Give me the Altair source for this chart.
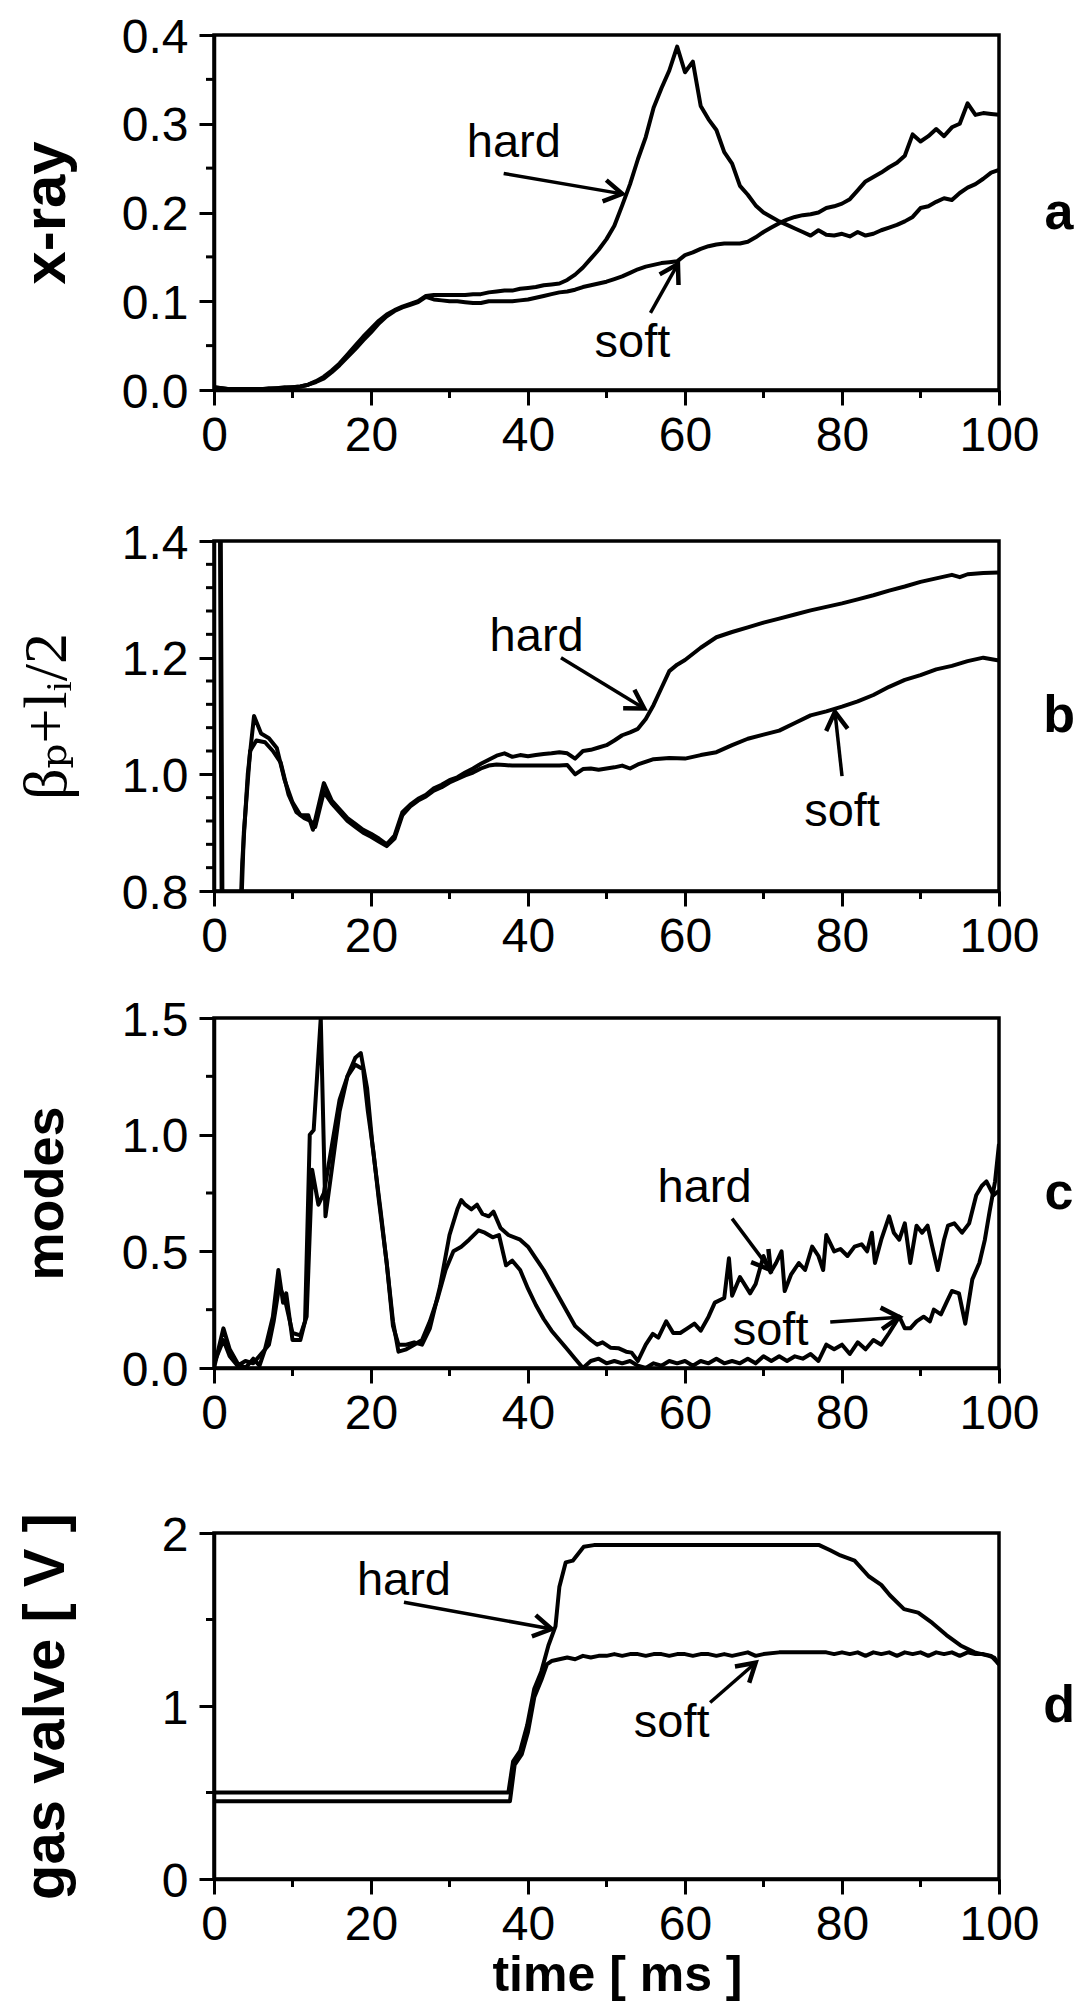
import math
import altair as alt
import pandas as pd

FONT = "Liberation Sans, Arial, Helvetica, sans-serif"
SERIF = "Liberation Serif, DejaVu Serif, Times New Roman, serif"
W = 785

x_major = [0, 20, 40, 60, 80, 100]
x_minor = [10, 30, 50, 70, 90]

# ---------------- panel a : x-ray ----------------
a_t = list(range(101))
a_hard = [0.003, 0.002, 0.001, 0.001, 0.001, 0.001, 0.001, 0.002, 0.002, 0.003, 0.003,
          0.004, 0.006, 0.010, 0.015, 0.022, 0.030, 0.040, 0.050, 0.060, 0.069,
          0.078, 0.085, 0.090, 0.094, 0.097, 0.100, 0.106, 0.107, 0.107, 0.107,
          0.107, 0.107, 0.108, 0.108, 0.110, 0.111, 0.112, 0.112, 0.114, 0.115,
          0.116, 0.118, 0.119, 0.120, 0.124, 0.130, 0.138, 0.148, 0.158, 0.170,
          0.185, 0.208, 0.232, 0.260, 0.285, 0.318, 0.340, 0.360, 0.387, 0.358,
          0.370, 0.320, 0.305, 0.293, 0.268, 0.255, 0.230, 0.220, 0.208, 0.200,
          0.195, 0.190, 0.186, 0.182, 0.178, 0.174, 0.180, 0.175, 0.174, 0.176,
          0.173, 0.178, 0.174, 0.176, 0.180, 0.183, 0.186, 0.190, 0.195, 0.205,
          0.207, 0.212, 0.216, 0.214, 0.222, 0.228, 0.232, 0.238, 0.245, 0.248]
a_soft = [0.003, 0.002, 0.001, 0.001, 0.001, 0.001, 0.001, 0.001, 0.002, 0.002, 0.003,
          0.004, 0.006, 0.009, 0.013, 0.020, 0.028, 0.037, 0.046, 0.056, 0.065,
          0.075, 0.083, 0.089, 0.093, 0.096, 0.099, 0.105, 0.102, 0.101, 0.100,
          0.100, 0.099, 0.098, 0.098, 0.100, 0.100, 0.100, 0.100, 0.101, 0.102,
          0.104, 0.106, 0.108, 0.110, 0.111, 0.113, 0.116, 0.118, 0.120, 0.122,
          0.125, 0.128, 0.132, 0.136, 0.139, 0.141, 0.143, 0.144, 0.145, 0.152,
          0.155, 0.159, 0.162, 0.164, 0.165, 0.165, 0.165, 0.167, 0.172, 0.178,
          0.183, 0.188, 0.192, 0.195, 0.197, 0.198, 0.200, 0.205, 0.207, 0.210,
          0.215, 0.225, 0.235, 0.240, 0.245, 0.251, 0.256, 0.264, 0.288, 0.280,
          0.286, 0.294, 0.286, 0.296, 0.300, 0.323, 0.310, 0.312, 0.311, 0.310]
a_major = [0.0, 0.1, 0.2, 0.3, 0.4]
a_minor = [0.05, 0.15, 0.25, 0.35]
a_labels = [("hard", 38.2, 0.278), ("soft", 53.3, 0.053)]
a_arrows = [(36.9, 0.244, 52.0, 0.221), (55.6, 0.087, 59.1, 0.142)]

# ---------------- panel b : beta_p + l_i/2 ----------------
b_hard = [(0, 1.6), (0.8, 1.6), (1.1, 0.7), (3.2, 0.7), (3.6, 0.85), (4.3, 1.0), (5.1, 1.10),
          (6, 1.07), (7, 1.062), (8, 1.045), (9, 0.99), (10, 0.952), (11, 0.93), (12, 0.93),
          (12.6, 0.905), (14, 0.985), (15, 0.955), (16, 0.94), (17, 0.925), (18, 0.915),
          (19, 0.905), (20, 0.898), (21, 0.89), (22, 0.88), (23, 0.895), (24, 0.935),
          (25, 0.948), (26, 0.958), (27, 0.965), (28, 0.976), (29, 0.982), (30, 0.99),
          (31, 0.995), (32, 1.003), (33, 1.01), (34, 1.018), (35, 1.025), (36, 1.032),
          (37, 1.036), (38, 1.03), (39, 1.033), (40, 1.031), (41, 1.033), (42, 1.035),
          (43, 1.036), (44, 1.038), (45, 1.036), (46, 1.027), (47, 1.04), (48, 1.042),
          (49, 1.046), (50, 1.05), (51, 1.058), (52, 1.067), (53, 1.072), (54, 1.078),
          (55, 1.095), (56, 1.119), (57, 1.148), (58, 1.177), (59, 1.188), (60, 1.196),
          (62, 1.217), (64, 1.235), (66, 1.244), (68, 1.252), (70, 1.26), (72, 1.267),
          (74, 1.274), (76, 1.281), (78, 1.287), (80, 1.293), (82, 1.300), (84, 1.307),
          (86, 1.315), (88, 1.322), (90, 1.33), (92, 1.336), (94, 1.342), (95, 1.338),
          (96, 1.343), (98, 1.345), (100, 1.346)]
b_soft = [(0, 1.6), (0.7, 1.6), (1.0, 0.7), (3.3, 0.7), (3.8, 0.9), (4.6, 1.04), (5.4, 1.058),
          (6.5, 1.055), (7.5, 1.04), (8.5, 1.02), (9.5, 0.965), (10.5, 0.935), (11.5, 0.925),
          (12.3, 0.92), (12.9, 0.91), (14, 0.97), (15, 0.95), (16, 0.935), (17, 0.92),
          (18, 0.91), (19, 0.9), (20, 0.893), (21, 0.885), (22, 0.877), (23, 0.89),
          (24, 0.93), (25, 0.945), (26, 0.955), (27, 0.962), (28, 0.972), (29, 0.978),
          (30, 0.986), (31, 0.992), (32, 0.998), (33, 1.003), (34, 1.01), (35, 1.015),
          (36, 1.017), (37, 1.016), (38, 1.015), (40, 1.015), (42, 1.015), (44, 1.015),
          (45, 1.016), (46, 1.0), (47, 1.009), (48, 1.01), (49, 1.008), (50, 1.01),
          (51, 1.012), (52, 1.015), (53, 1.01), (54, 1.017), (56, 1.026), (58, 1.028),
          (60, 1.027), (62, 1.033), (64, 1.038), (66, 1.05), (68, 1.061), (70, 1.068),
          (72, 1.075), (74, 1.088), (76, 1.101), (78, 1.108), (80, 1.116), (82, 1.125),
          (84, 1.136), (86, 1.15), (88, 1.162), (90, 1.17), (92, 1.18), (94, 1.186),
          (96, 1.194), (98, 1.2), (100, 1.195)]
b_major = [0.8, 1.0, 1.2, 1.4]
b_minor = [0.84, 0.88, 0.92, 0.96, 1.04, 1.08, 1.12, 1.16, 1.24, 1.28, 1.32, 1.36]
b_labels = [("hard", 41.1, 1.235), ("soft", 80.0, 0.936)]
b_arrows = [(44.2, 1.2, 54.8, 1.113), (80.0, 0.997, 79.1, 1.107)]

# ---------------- panel c : modes ----------------
c_hard = [(0, 0.0), (1.2, 0.17), (2, 0.08), (3, 0.02), (4, 0.0), (5, 0.04), (5.8, 0.01), (6.5, 0.08),
          (7.5, 0.22), (8.2, 0.42), (8.8, 0.28), (9.2, 0.32), (10, 0.12), (11, 0.12), (11.6, 0.2),
          (12.2, 1.0), (12.7, 1.02), (13.6, 1.5), (14.2, 0.65), (15, 0.85), (16, 1.1), (17, 1.25),
          (18, 1.33), (18.7, 1.35), (19.5, 1.2), (20.2, 0.95), (21.2, 0.68), (22, 0.45), (22.8, 0.18),
          (23.5, 0.1), (24.5, 0.1), (25.5, 0.11), (26.5, 0.1), (27.5, 0.17), (28.8, 0.35), (30, 0.57),
          (31, 0.68), (31.5, 0.72), (32, 0.7), (32.8, 0.68), (33.5, 0.7), (34.2, 0.66), (35, 0.65),
          (35.6, 0.67), (36.5, 0.6), (37.5, 0.57), (39, 0.55), (40, 0.52), (41, 0.47), (42, 0.42),
          (43, 0.36), (44, 0.3), (45, 0.24), (46, 0.18), (47, 0.15), (48, 0.12), (48.8, 0.10),
          (49.5, 0.11), (50.5, 0.087), (51.5, 0.085), (52.5, 0.07), (53.2, 0.066), (54, 0.03),
          (55, 0.1), (55.9, 0.146), (56.6, 0.13), (57.6, 0.2), (58.5, 0.15), (59.4, 0.15),
          (60.3, 0.17), (61.2, 0.19), (62, 0.16), (63, 0.22), (63.8, 0.28), (65, 0.3), (65.6, 0.47),
          (66, 0.31), (67, 0.39), (68.3, 0.32), (69, 0.36), (70, 0.48), (70.9, 0.41), (71.6, 0.45),
          (72.3, 0.5), (72.7, 0.33), (73.5, 0.4), (74.5, 0.45), (75.3, 0.42), (76.2, 0.52),
          (77, 0.48), (77.6, 0.42), (78, 0.57), (79, 0.5), (79.8, 0.51), (80.7, 0.48), (81.6, 0.52),
          (82.5, 0.53), (83.2, 0.5), (83.8, 0.58), (84.2, 0.45), (85, 0.55), (86, 0.65), (86.6, 0.58),
          (87.3, 0.55), (88, 0.62), (88.7, 0.45), (89.5, 0.61), (90.2, 0.58), (90.9, 0.61),
          (91.5, 0.52), (92.2, 0.42), (93, 0.55), (93.5, 0.61), (94.3, 0.62), (95.3, 0.58),
          (96.2, 0.62), (97.1, 0.74), (97.8, 0.78), (98.4, 0.8), (99.3, 0.74), (100, 0.76)]
c_soft = [(0, 0.02), (1.2, 0.12), (2, 0.05), (3, 0.01), (4, 0.03), (5, 0.02), (6, 0.06), (7, 0.1),
          (7.6, 0.2), (8.3, 0.35), (9, 0.3), (10, 0.15), (11, 0.14), (11.8, 0.22), (12.5, 0.85),
          (13.3, 0.7), (14, 0.75), (15, 0.95), (16, 1.15), (17, 1.25), (18, 1.3), (19, 1.28),
          (19.6, 1.1), (20.3, 0.93), (21, 0.72), (22, 0.45), (22.8, 0.2), (23.5, 0.07), (24.5, 0.08),
          (25.5, 0.1), (26.5, 0.12), (27.5, 0.2), (28.5, 0.3), (29.5, 0.42), (30.5, 0.5),
          (31.5, 0.52), (32.5, 0.55), (33.7, 0.59), (34.5, 0.58), (35.5, 0.56), (36.3, 0.57),
          (37.2, 0.44), (38, 0.46), (39, 0.42), (40, 0.34), (41, 0.27), (42, 0.21), (43, 0.16),
          (44, 0.12), (45, 0.08), (46, 0.04), (47, 0.0), (48, 0.03), (49, 0.04), (50, 0.02),
          (51, 0.03), (52, 0.02), (53, 0.03), (54, 0.01), (55, 0.0), (56, 0.02), (57, 0.01),
          (58, 0.03), (59, 0.02), (60, 0.03), (61, 0.01), (62, 0.03), (63, 0.02), (64, 0.04),
          (65, 0.02), (66, 0.03), (67, 0.02), (68, 0.04), (69, 0.02), (70, 0.05), (71, 0.03),
          (72, 0.05), (73, 0.03), (74, 0.05), (75, 0.04), (76, 0.06), (77, 0.03), (78, 0.1),
          (79, 0.08), (80, 0.1), (81, 0.06), (82, 0.11), (83, 0.08), (84, 0.12), (85, 0.1),
          (86, 0.15), (87.3, 0.22), (88, 0.17), (88.7, 0.17), (89.5, 0.2), (90.4, 0.22),
          (91.2, 0.2), (91.7, 0.25), (92.6, 0.23), (93.3, 0.28), (94, 0.33), (94.9, 0.32),
          (95.7, 0.19), (96.6, 0.38), (97.5, 0.45), (98.2, 0.55), (98.8, 0.67), (99.5, 0.8),
          (100, 0.96)]
c_major = [0.0, 0.5, 1.0, 1.5]
c_minor = [0.25, 0.75, 1.25]
c_labels = [("hard", 62.5, 0.77), ("soft", 70.9, 0.16)]
c_arrows = [(66.0, 0.64, 70.9, 0.42), (78.5, 0.197, 87.3, 0.218)]

# ---------------- panel d : gas valve ----------------
d_hard = [(0, 0.5), (37.5, 0.5), (38.1, 0.68), (39, 0.74), (39.9, 0.89), (40.8, 1.1), (41.7, 1.2),
          (42.6, 1.35), (43.5, 1.46), (44, 1.69), (44.8, 1.83), (45.7, 1.84), (47.1, 1.92),
          (48.4, 1.93), (55, 1.93), (65, 1.93), (75, 1.93), (77.1, 1.93), (78.5, 1.9),
          (79.8, 1.87), (81.6, 1.84), (83.4, 1.75), (85, 1.7), (86.1, 1.64), (87.9, 1.56),
          (89.7, 1.54), (91.5, 1.48), (93.3, 1.41), (95.1, 1.35), (96.9, 1.31), (98.7, 1.29),
          (99.4, 1.28), (100, 1.24)]
d_soft = [(0, 0.45), (37.7, 0.45), (38.3, 0.66), (39.2, 0.72), (40, 0.85), (40.8, 1.05), (41.7, 1.15),
          (42.4, 1.24), (43, 1.26), (44, 1.27), (45, 1.28), (46, 1.27), (47, 1.29), (48, 1.28),
          (49, 1.29), (50, 1.29), (51, 1.3), (52, 1.29), (53, 1.3), (54, 1.3), (55, 1.29),
          (56, 1.3), (57, 1.3), (58, 1.29), (59, 1.3), (60, 1.3), (61, 1.29), (62, 1.3), (63, 1.3),
          (64, 1.29), (65, 1.3), (66, 1.29), (67, 1.3), (68, 1.31), (69, 1.29), (70, 1.3),
          (72, 1.31), (74, 1.31), (76, 1.31), (78, 1.31), (79, 1.3), (80, 1.31), (81, 1.3),
          (82, 1.31), (83, 1.29), (84, 1.31), (85, 1.3), (86, 1.31), (87, 1.29), (88, 1.31),
          (89, 1.3), (90, 1.31), (91, 1.29), (92, 1.31), (93, 1.3), (94, 1.31), (95, 1.29),
          (96, 1.31), (97, 1.3), (98, 1.3), (99, 1.29), (99.6, 1.26), (100, 1.24)]
d_major = [0.0, 1.0, 2.0]
d_minor = [0.5, 1.5]
d_labels = [("hard", 24.2, 1.72), ("soft", 58.3, 0.9)]
d_arrows = [(24.2, 1.6, 43.0, 1.445), (63.2, 1.02, 69.0, 1.25)]

ARROW = "M-1,-0.6L0,0L-1,0.6"


def panel(series, labels, arrows, ydom, ymajor, yminor, fmt, ytitle, H, letter,
          tfont=FONT, tweight="bold", tsize=52, xtitle=None):
    rows = []
    for name, pts in series:
        for t, v in pts:
            rows.append({"t": t, "v": v, "s": name})
    df = pd.DataFrame(rows)
    xs = alt.Scale(domain=[0, 100], nice=False, zero=False)
    ys = alt.Scale(domain=ydom, nice=False, zero=False)

    yaxis = alt.Axis(values=ymajor, format=fmt, tickSize=15, labelOverlap=False, grid=False,
                     labelOffset=3,
                     title=ytitle, titleX=-168, titleY=H / 2, titleAngle=270,
                     titleAlign="center", titleBaseline="middle", titleFont=tfont,
                     titleFontWeight=tweight, titleFontSize=tsize, titleColor="black")
    xkw = dict(values=x_major, format="d", tickSize=15, labelOverlap=False,
               labelFlush=False, grid=False)
    if xtitle:
        xaxis = alt.Axis(title=xtitle, titleX=403, titleY=96, titleBaseline="middle",
                         titleAlign="center", titleFont=FONT, titleFontWeight="bold",
                         titleFontSize=50, titleColor="black", **xkw)
    else:
        xaxis = alt.Axis(title=None, **xkw)

    lines = alt.Chart(df).mark_line(clip=True, color="black", strokeWidth=4,
                                    strokeJoin="round").encode(
        x=alt.X("t:Q", scale=xs, axis=xaxis),
        y=alt.Y("v:Q", scale=ys, axis=yaxis),
        detail="s:N",
    )

    # minor ticks (drawn through the same scales)
    xm = alt.Chart(pd.DataFrame({"t": x_minor})).mark_rule(color="black", strokeWidth=3).encode(
        x=alt.X("t:Q", scale=xs), y=alt.value(H), y2=alt.value(H + 8))
    ym = alt.Chart(pd.DataFrame({"v": yminor})).mark_rule(color="black", strokeWidth=3).encode(
        y=alt.Y("v:Q", scale=ys), x=alt.value(0), x2=alt.value(-8))

    lab_df = pd.DataFrame([{"label": l, "t": t, "v": v} for l, t, v in labels])
    texts = alt.Chart(lab_df).mark_text(font=FONT, fontSize=47, color="black",
                                        align="center", baseline="middle").encode(
        x=alt.X("t:Q", scale=xs),
        y=alt.Y("v:Q", scale=ys),
        text="label:N",
    )

    arr_rows = []
    for t0, v0, t1, v1 in arrows:
        dx = (t1 - t0) * W / 100.0
        dy = -(v1 - v0) * H / (ydom[1] - ydom[0])
        ang = math.degrees(math.atan2(dy, dx)) % 360
        arr_rows.append({"t": t0, "v": v0, "t1": t1, "v1": v1, "ang": ang})
    arr_df = pd.DataFrame(arr_rows)
    shafts = alt.Chart(arr_df).mark_rule(color="black", strokeWidth=3.5).encode(
        x=alt.X("t:Q", scale=xs),
        y=alt.Y("v:Q", scale=ys),
        x2="t1:Q",
        y2="v1:Q",
    )
    heads = alt.Chart(arr_df).mark_point(
        shape=ARROW, filled=False, size=1300, color="black", strokeWidth=4.5, opacity=1).encode(
        x=alt.X("t1:Q", scale=xs),
        y=alt.Y("v1:Q", scale=ys),
        angle=alt.Angle("ang:Q", scale=None),
    )
    let = alt.Chart(pd.DataFrame({"k": [letter]})).mark_text(
        font=FONT, fontSize=52, fontWeight="bold", color="black",
        align="center", baseline="middle").encode(
        text="k:N", x=alt.value(W + 60), y=alt.value(H / 2))

    return alt.layer(lines, xm, ym, shafts, heads, texts, let).properties(width=W, height=H)


pa = panel([("hard", list(zip(a_t, a_hard))), ("soft", list(zip(a_t, a_soft)))],
           a_labels, a_arrows, [0.0, 0.4], a_major, a_minor, ".1f", "x-ray", 355, "a", tsize=60)
pb = panel([("hard", b_hard), ("soft", b_soft)], b_labels, b_arrows, [0.8, 1.4], b_major, b_minor,
           ".1f", "\u03b2\u209a+l\u1d62/2", 350, "b", tfont=SERIF, tweight="normal", tsize=62)
pc = panel([("hard", c_hard), ("soft", c_soft)], c_labels, c_arrows, [0.0, 1.5], c_major, c_minor,
           ".1f", "modes", 350, "c", tsize=54)
pd_ = panel([("hard", d_hard), ("soft", d_soft)], d_labels, d_arrows, [0.0, 2.0], d_major, d_minor,
            ".0f", "gas valve [ V ]", 346, "d", tsize=58, xtitle="time [ ms ]")

chart = alt.vconcat(
    alt.vconcat(pa, pb, spacing=56),
    alt.vconcat(pc, pd_, spacing=70),
    spacing=32,
).properties(
    padding={"left": 5, "top": 4, "right": 5, "bottom": 0},
    background="white",
).configure_view(
    stroke="black", strokeWidth=3.5
).configure_axis(
    domainColor="black", domainWidth=3.5, tickColor="black", tickWidth=3,
    labelColor="black", labelFont=FONT, labelFontSize=48,
).configure_axisX(
    labelPadding=7
).configure_axisY(
    labelPadding=11
)

chart.save("out.html", embed_options={"renderer": "svg", "actions": False})
